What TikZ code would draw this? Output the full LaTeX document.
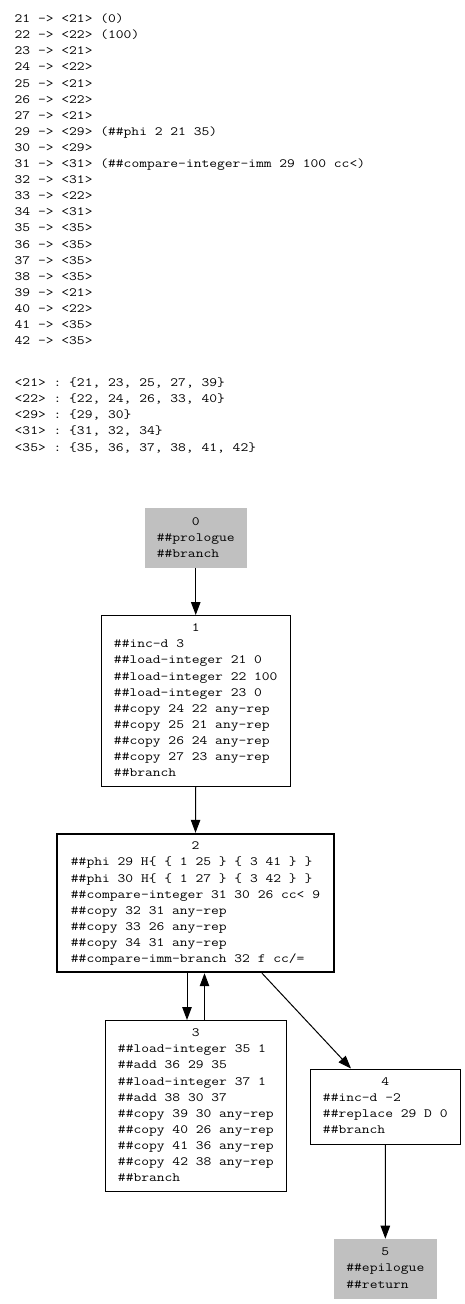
\documentclass[tikz,border=0pt]{standalone}
\usepackage{graphicx}
\usetikzlibrary{arrows.meta}
\definecolor{blockgray}{HTML}{C0C0C0}
% typewriter text, widened to a Courier-like pitch
\newcommand\wide[1]{\scalebox{1.2}[1]{#1}}
\begin{document}
\begin{tikzpicture}[x=1pt,y=-1pt,
  code/.style={font=\fontsize{12.6}{16.1}\selectfont\ttfamily\frenchspacing, inner sep=0pt},
  block/.style={code, draw=black, line width=1pt, anchor=center},
  entry/.style={code, fill=blockgray, draw=blockgray, line width=0.6pt, anchor=center},
  hot/.style={block, line width=2.4pt},
  arr/.style={draw=black, line width=1pt, -{Triangle[length=13pt,width=9.5pt]}}
]
\useasboundingbox (0,0) rectangle (465,1304);

% value-number map
\node[code, anchor=base west] (vmap) at (14.5,22.6) {\wide{\begin{tabular}[t]{@{}l@{}}
21 -> <21> (0)\\
22 -> <22> (100)\\
23 -> <21>\\
24 -> <22>\\
25 -> <21>\\
26 -> <22>\\
27 -> <21>\\
29 -> <29> (\#\#phi 2 21 35)\\
30 -> <29>\\
31 -> <31> (\#\#compare-integer-imm 29 100 cc<)\\
32 -> <31>\\
33 -> <22>\\
34 -> <31>\\
35 -> <35>\\
36 -> <35>\\
37 -> <35>\\
38 -> <35>\\
39 -> <21>\\
40 -> <22>\\
41 -> <35>\\
42 -> <35>
\end{tabular}}};

% congruence classes
\node[code, anchor=base west] (classes) at (14.5,386.6) {\wide{\begin{tabular}[t]{@{}l@{}}
<21> : \{21, 23, 25, 27, 39\}\\
<22> : \{22, 24, 26, 33, 40\}\\
<29> : \{29, 30\}\\
<31> : \{31, 32, 34\}\\
<35> : \{35, 36, 37, 38, 41, 42\}
\end{tabular}}};

% basic blocks
\node[entry, minimum width=101.5pt, minimum height=59pt] (b0) at (195.75,538) {\wide{\begin{tabular}{@{}l@{}}
\multicolumn{1}{@{}c@{}}{0}\\
\#\#prologue\\
\#\#branch
\end{tabular}}};

\node[block, minimum width=189.5pt, minimum height=171pt] (b1) at (195.75,701) {\wide{\begin{tabular}{@{}l@{}}
\multicolumn{1}{@{}c@{}}{1}\\
\#\#inc-d 3\\
\#\#load-integer 21 0\\
\#\#load-integer 22 100\\
\#\#load-integer 23 0\\
\#\#copy 24 22 any-rep\\
\#\#copy 25 21 any-rep\\
\#\#copy 26 24 any-rep\\
\#\#copy 27 23 any-rep\\
\#\#branch
\end{tabular}}};

\node[hot, minimum width=277pt, minimum height=138pt] (b2) at (195.5,903) {\wide{\begin{tabular}{@{}l@{}}
\multicolumn{1}{@{}c@{}}{2}\\
\#\#phi 29 H\{ \{ 1 25 \} \{ 3 41 \} \}\\
\#\#phi 30 H\{ \{ 1 27 \} \{ 3 42 \} \}\\
\#\#compare-integer 31 30 26 cc< 9\\
\#\#copy 32 31 any-rep\\
\#\#copy 33 26 any-rep\\
\#\#copy 34 31 any-rep\\
\#\#compare-imm-branch 32 f cc/=
\end{tabular}}};

\node[block, minimum width=181.7pt, minimum height=171pt] (b3) at (195.85,1106) {\wide{\begin{tabular}{@{}l@{}}
\multicolumn{1}{@{}c@{}}{3}\\
\#\#load-integer 35 1\\
\#\#add 36 29 35\\
\#\#load-integer 37 1\\
\#\#add 38 30 37\\
\#\#copy 39 30 any-rep\\
\#\#copy 40 26 any-rep\\
\#\#copy 41 36 any-rep\\
\#\#copy 42 38 any-rep\\
\#\#branch
\end{tabular}}};

\node[block, minimum width=149.5pt, minimum height=75pt] (b4) at (385.25,1106.5) {\wide{\begin{tabular}{@{}l@{}}
\multicolumn{1}{@{}c@{}}{4}\\
\#\#inc-d -2\\
\#\#replace 29 D 0\\
\#\#branch
\end{tabular}}};

\node[entry, minimum width=102.7pt, minimum height=59.5pt] (b5) at (385.35,1268.75) {\wide{\begin{tabular}{@{}l@{}}
\multicolumn{1}{@{}c@{}}{5}\\
\#\#epilogue\\
\#\#return
\end{tabular}}};

% control-flow edges
\draw[arr] (b0.south) -- (b1.north);
\draw[arr] (b1.south) -- (b2.north);
\draw[arr] (b2.south -| 187,0) -- (b3.north -| 187,0);
\draw[arr] (b3.north -| 204.5,0) -- (b2.south -| 204.5,0);
\draw[arr] (b2.south -| 262,0) -- (b4.north -| 351,0);
\draw[arr] (b4.south) -- (b5.north);
\end{tikzpicture}
\end{document}
